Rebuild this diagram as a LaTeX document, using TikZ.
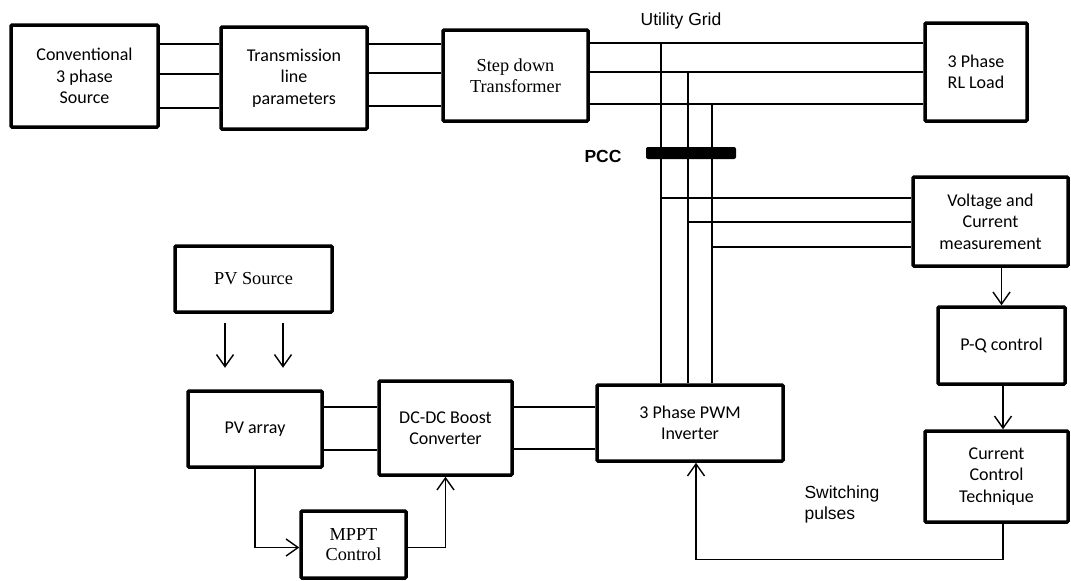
\documentclass[tikz,border=0pt]{standalone}
\usepackage{fontspec}
\setmainfont{Carlito}
\newfontfamily\timesfont{Liberation Serif}
\newfontfamily\arialfont{Liberation Sans}
\usetikzlibrary{arrows.meta}

\begin{document}
\begin{tikzpicture}[x=1pt, y=-1pt,
        block/.style={draw, line width=3.5pt, rounded corners=1pt, fill=white,
                      align=center, inner sep=2pt, font=\fontsize{18}{21.5}\selectfont},
        serif/.style={block, font=\timesfont\fontsize{18.3}{20.5}\selectfont},
        wire/.style={line width=1.4pt},
        arr/.style={-{Straight Barb[length=12pt, width=17pt]}, line width=1.4pt},
        lbl/.style={font=\arialfont\fontsize{17.5}{21}\selectfont, align=left}
    ]
        \useasboundingbox (0,0) rectangle (1071,581);

        \node[block, minimum width=147pt, minimum height=102pt] (src) at (84.5,76)
            {Conventional\\3 phase\\Source};
        \node[block, minimum width=146pt, minimum height=102pt] (tline) at (294,78)
            {Transmission\\line\\parameters};
        \node[serif, minimum width=145pt, minimum height=91pt] (xfmr) at (515.5,75.5)
            {Step down\\Transformer};
        \node[block, minimum width=102pt, minimum height=98pt] (load) at (976,72)
            {3 Phase\\RL Load};
        \node[block, minimum width=155pt, minimum height=89pt] (vcm) at (990.5,221.5)
            {Voltage and\\Current\\measurement};
        \node[block, minimum width=127pt, minimum height=77pt] (pq) at (1001.5,345.5)
            {P-Q control};
        \node[block, minimum width=143pt, minimum height=91pt] (cct) at (996.5,476.5)
            {Current\\Control\\Technique};
        \node[block, minimum width=186pt, minimum height=76pt] (inv) at (690,423)
            {3 Phase PWM\\Inverter};
        \node[serif, minimum width=157pt, minimum height=66pt] (pvs) at (253.5,279)
            {PV Source};
        \node[block, minimum width=134pt, minimum height=76pt] (pva) at (255,429)
            {PV array};
        \node[block, minimum width=133pt, minimum height=94pt] (boost) at (445.5,428)
            {DC-DC Boost\\Converter};
        \node[serif, minimum width=105pt, minimum height=67pt] (mppt) at (353.5,544.5)
            {MPPT\\Control};

        \node[lbl] (grid) at (681,21) {Utility Grid};
        \node[lbl, font=\arialfont\bfseries\fontsize{17.5}{21}\selectfont] (pcclbl) at (603,156) {PCC};
        \node[lbl, anchor=west] (sw) at (801,504) {Switching\\pulses};

        \foreach \y in {44,74,108}
            \draw[wire] (src.east |- 0,\y) -- (tline.west |- 0,\y);
        \foreach \y in {44,73,106}
            \draw[wire] (tline.east |- 0,\y) -- (xfmr.west |- 0,\y);
        \foreach \y in {43,72,104}
            \draw[wire] (xfmr.east |- 0,\y) -- (load.west |- 0,\y);
        \foreach \x/\y/\t [count=\i] in {661/43/198, 688/72/222, 712/104/247} {
            \coordinate (tap\i) at (\x,\y);
            \draw[wire] (tap\i) -- (tap\i |- inv.north);
            \draw[wire] (tap\i |- 0,\t) -- (vcm.west |- 0,\t);
        }
        \node[fill, rounded corners=2pt, minimum width=90pt, minimum height=12pt, inner sep=0pt]
            (pcc) at (691,153) {};

        \draw[arr] (pq.north |- vcm.south) -- (pq.north);
        \draw[arr] ([xshift=1.5pt]pq.south) -- ([xshift=1.5pt]pq.south |- cct.north);
        \draw[arr] ([xshift=1.5pt]pq.south |- cct.south) -- ++(0,36) -| ([xshift=6pt]inv.south);

        \foreach \dx in {-28.5,29.5}
            \draw[arr] ([xshift=\dx pt, yshift=-9pt]pvs.south) -- ++(0,45);
        \foreach \y in {407,450}
            \draw[wire] (pva.east |- 0,\y) -- (boost.west |- 0,\y);
        \foreach \y in {407,449}
            \draw[wire] (boost.east |- 0,\y) -- (inv.west |- 0,\y);
        \draw[arr] (pva.south) |- ([yshift=-3pt]mppt.west);
        \draw[arr] ([yshift=-3pt]mppt.east) -| (boost.south);
    \end{tikzpicture}
\end{document}
